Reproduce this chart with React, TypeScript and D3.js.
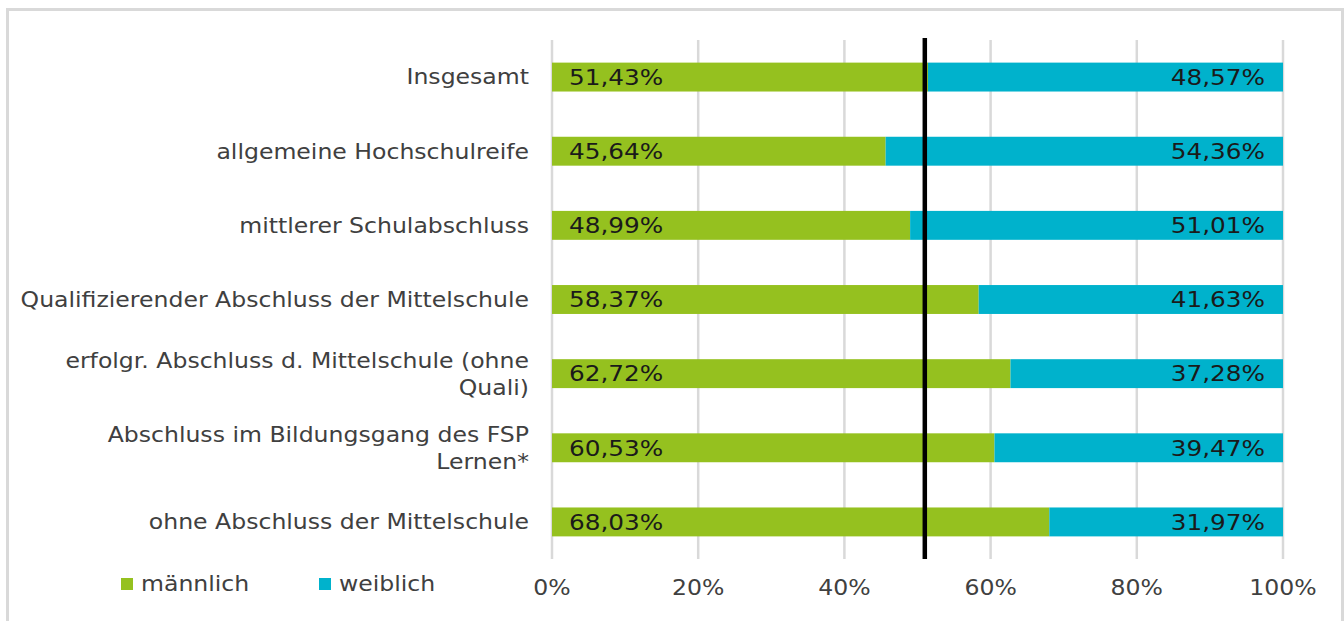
import React, { useEffect, useRef } from 'react';
import * as d3 from 'd3';

const categories = [
  'Insgesamt',
  'allgemeine Hochschulreife',
  'mittlerer Schulabschluss',
  'Qualifizierender Abschluss der Mittelschule',
  'erfolgr. Abschluss d. Mittelschule (ohne|Quali)',
  'Abschluss im Bildungsgang des FSP|Lernen*',
  'ohne Abschluss der Mittelschule',
];
const maennlich = [51.43, 45.64, 48.99, 58.37, 62.72, 60.53, 68.03];
const weiblich = [48.57, 54.36, 51.01, 41.63, 37.28, 39.47, 31.97];
const xTicks = [0, 20, 40, 60, 80, 100];
const referenceValue = 51.0;
const seriesNames = ['männlich', 'weiblich'];

const GREEN = '#95c11f';
const BLUE = '#00b2cc';
const FONT = '"DejaVu Sans", Verdana, sans-serif';
const SX = 1.15; // the reference font is wider than DejaVu

const fmt = (v: number) => v.toFixed(2).replace('.', ',') + '%';

// text placed at (x, y) and stretched horizontally
function label(g: any, x: number, y: number, txt: string, size: number, anchor: string, fill: string) {
  return g.append('text')
    .attr('transform', `translate(${x},${y}) scale(${SX},1)`)
    .attr('dy', '0.36em')
    .attr('text-anchor', anchor)
    .attr('font-size', size)
    .attr('font-family', FONT)
    .attr('fill', fill)
    .text(txt);
}

export default function App() {
  const ref = useRef<SVGSVGElement>(null);

  useEffect(() => {
    document.body.style.margin = '0';
    const svg = d3.select(ref.current);
    svg.selectAll('*').remove();

    const left = 552, right = 1283, top = 40, bottom = 559;
    const x = d3.scaleLinear().domain([0, 100]).range([left, right]);
    const y = d3.scaleBand<number>().domain(d3.range(categories.length)).range([top, bottom]).paddingInner(0.61).paddingOuter(0.305);

    // outer frame
    svg.append('rect')
      .attr('x', 7.5).attr('y', 9.5).attr('width', 1335).attr('height', 640)
      .attr('fill', 'white').attr('stroke', '#d9d9d9').attr('stroke-width', 3);

    // gridlines
    svg.append('g').selectAll('line').data(xTicks).join('line')
      .attr('x1', (d) => x(d)).attr('x2', (d) => x(d))
      .attr('y1', top).attr('y2', bottom)
      .attr('stroke', '#d9d9d9').attr('stroke-width', 2.5);

    const rows = svg.append('g');

    categories.forEach((c, i) => {
      const by = y(i)!;
      const cy = by + y.bandwidth() / 2;
      rows.append('rect')
        .attr('x', x(0)).attr('y', by)
        .attr('width', x(maennlich[i]) - x(0))
        .attr('height', y.bandwidth()).attr('fill', GREEN);
      rows.append('rect')
        .attr('x', x(maennlich[i])).attr('y', by)
        .attr('width', x(100) - x(maennlich[i]))
        .attr('height', y.bandwidth()).attr('fill', BLUE);

      label(rows, x(0) + 17, cy, fmt(maennlich[i]), 21.5, 'start', '#1a1a1a');
      label(rows, x(100) - 18, cy, fmt(weiblich[i]), 21.5, 'end', '#1a1a1a');

      const lines = c.split('|');
      lines.forEach((ln, k) => {
        label(rows, left - 23, cy + (k - (lines.length - 1) / 2) * 27, ln, 20.5, 'end', '#404040');
      });
    });

    // reference line
    svg.append('line')
      .attr('x1', x(referenceValue)).attr('x2', x(referenceValue))
      .attr('y1', top - 2).attr('y2', bottom)
      .attr('stroke', '#000').attr('stroke-width', 4.5);

    // x axis labels
    const ax = svg.append('g');
    xTicks.forEach((t) => label(ax, x(t), 588, t + '%', 20.5, 'middle', '#404040'));

    // legend
    const legX = [121, 319];
    seriesNames.forEach((s, i) => {
      svg.append('rect').attr('x', legX[i]).attr('y', 578).attr('width', 12).attr('height', 12)
        .attr('fill', i === 0 ? GREEN : BLUE);
      label(svg, legX[i] + 20, 584, s, 20.5, 'start', '#404040');
    });
  }, []);

  return <svg ref={ref} width={1344} height={621} style={{ display: 'block' }} />;
}
